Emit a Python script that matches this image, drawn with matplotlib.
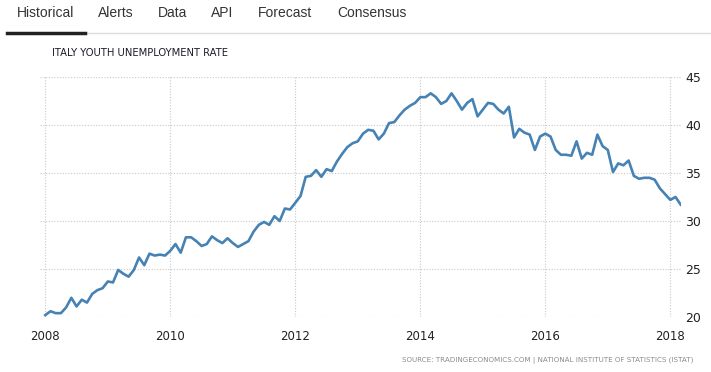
import numpy as np
import matplotlib
matplotlib.use("Agg")
import matplotlib.pyplot as plt

# monthly youth unemployment rate, Jan 2008 .. Mar 2018
start_year = 2008
rate = [
    20.2, 20.6, 20.4, 20.4, 21.0, 22.0, 21.1, 21.8, 21.5, 22.4, 22.8, 23.0,
    23.7, 23.6, 24.9, 24.5, 24.2, 24.9, 26.2, 25.4, 26.6, 26.4, 26.5, 26.4,
    26.9, 27.6, 26.7, 28.3, 28.3, 27.9, 27.4, 27.6, 28.4, 28.0, 27.7, 28.2,
    27.7, 27.3, 27.6, 27.9, 28.9, 29.6, 29.9, 29.6, 30.5, 30.0, 31.3, 31.2,
    31.9, 32.6, 34.6, 34.7, 35.3, 34.6, 35.4, 35.2, 36.2, 37.0, 37.7, 38.1,
    38.3, 39.1, 39.5, 39.4, 38.5, 39.1, 40.2, 40.3, 41.0, 41.6, 42.0, 42.3,
    42.9, 42.9, 43.3, 42.9, 42.2, 42.5, 43.3, 42.5, 41.6, 42.3, 42.7, 40.9,
    41.6, 42.3, 42.2, 41.6, 41.2, 41.9, 38.7, 39.6, 39.2, 39.0, 37.4, 38.8,
    39.1, 38.8, 37.4, 36.9, 36.9, 36.8, 38.3, 36.5, 37.1, 36.9, 39.0, 37.8,
    37.4, 35.1, 36.0, 35.8, 36.3, 34.7, 34.4, 34.5, 34.5, 34.3, 33.4, 32.8,
    32.2, 32.5, 31.7,
]
x_ticks = [2008, 2010, 2012, 2014, 2016, 2018]
y_ticks = [20, 25, 30, 35, 40, 45]
tabs = ["Historical", "Alerts", "Data", "API", "Forecast", "Consensus"]
tab_x = [17, 98, 158, 211, 258, 337]

W, H = 711, 372
fig = plt.figure(figsize=(W / 100, H / 100), dpi=100)

# tab bar
for name, px in zip(tabs, tab_x):
    fig.text(px / W, 1 - 13 / H, name, fontsize=10, color="#333333",
             family="Liberation Sans", va="center", ha="left")
fig.add_artist(plt.Line2D([85 / W, 1], [1 - 33 / H] * 2, color="#dddddd", lw=1))
fig.add_artist(plt.Line2D([7 / W, 85 / W], [1 - 32.5 / H] * 2, color="#222222", lw=2.5))

fig.text(52 / W, 1 - 53 / H, "ITALY YOUTH UNEMPLOYMENT RATE", fontsize=7.2,
         color="#1c1c2c", va="center", ha="left")

ax = fig.add_axes([40 / W, 1 - 317 / H, 641 / W, 240 / H])
t = start_year + np.arange(len(rate)) / 12
ax.plot(t, rate, color="#4682b4", lw=1.9, solid_joinstyle="round")

ax.set_xlim(2008 - 5.3 / 62.5, 2008 + 635.7 / 62.5)
ax.set_ylim(20, 45)
ax.set_xticks(x_ticks)
ax.set_yticks(y_ticks)
ax.set_xticklabels([str(v) for v in x_ticks], fontsize=8.5, color="#222222")
ax.set_yticklabels([str(v) for v in y_ticks], fontsize=9, color="#222222")
ax.yaxis.tick_right()
ax.tick_params(axis="y", length=0, pad=3)
ax.tick_params(axis="x", length=0, pad=9)
ax.grid(True, color="#c8c8c8", linestyle=(0, (1, 1.5)), lw=0.8)
ax.set_axisbelow(True)
for s in ax.spines.values():
    s.set_visible(False)

fig.text(693 / W, 1 - 360 / H,
         "SOURCE: TRADINGECONOMICS.COM | NATIONAL INSTITUTE OF STATISTICS (ISTAT)",
         fontsize=5.15, color="#8a8a8a", ha="right", va="center")

fig.savefig("out.png", dpi=100)
